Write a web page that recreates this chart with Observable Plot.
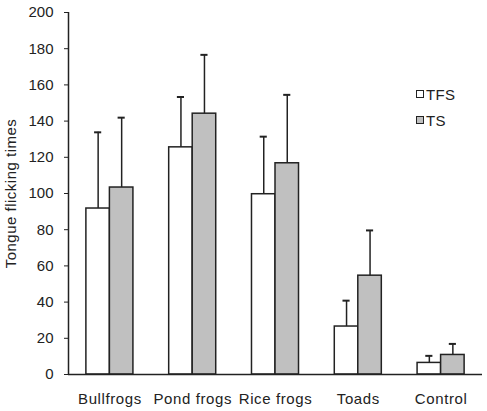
<!DOCTYPE html>
<html>
<head>
<meta charset="utf-8">
<script src="https://cdn.jsdelivr.net/npm/d3@7"></script>
<script src="https://cdn.jsdelivr.net/npm/@observablehq/plot@0.6"></script>
<style>
  html, body { margin: 0; padding: 0; background: #fff; }
  #wrap { position: relative; width: 487px; height: 411px; }
  .legend { position: absolute; font-family: "Liberation Sans", Arial, sans-serif; font-size: 15px; color: #222; letter-spacing: 0.3px; }
  .legend div { display: flex; align-items: center; height: 26px; }
  .legend span.sw { display: inline-block; width: 6px; height: 6px; border: 1.5px solid #222; margin-right: 2px; }
  svg g[aria-label="x-axis tick label"] text, svg g[aria-label="x-axis tick label"] { letter-spacing: 0.6px; }
  svg g[aria-label="y-axis label"] text, svg g[aria-label="y-axis label"] { letter-spacing: 0.5px; }
</style>
</head>
<body>
<div id="wrap"></div>
<script>
const categories = ["Bullfrogs", "Pond frogs", "Rice frogs", "Toads", "Control"];
const seriesNames = ["TFS", "TS"];
const tfsMeans = [91.7, 125.5, 99.6, 26.5, 6.4];
const tfsErrTop = [133.8, 153.3, 131.4, 40.8, 10.3];
const tsMeans = [103.3, 144.1, 116.7, 54.6, 10.8];
const tsErrTop = [141.9, 176.6, 154.5, 79.6, 16.9];
const yTicks = [0, 20, 40, 60, 80, 100, 120, 140, 160, 180, 200];
const seriesColors = ["#ffffff", "#c0c0c0"];

const barHalf = 0.284;   // fraction of a category slot per bar
const capHalf = 0.043;

const rows = [];
categories.forEach((c, i) => {
  rows.push({cat: c, s: 0, i, mean: tfsMeans[i], top: tfsErrTop[i]});
  rows.push({cat: c, s: 1, i, mean: tsMeans[i], top: tsErrTop[i]});
});
const x1 = d => d.i + 0.5 - (d.s === 0 ? barHalf : 0);
const x2 = d => d.i + 0.5 + (d.s === 1 ? barHalf : 0);
const xc = d => d.i + 0.5 + (d.s === 0 ? -barHalf / 2 : barHalf / 2);

const chart = Plot.plot({
  width: 487,
  height: 411,
  marginLeft: 68,
  marginRight: 5,
  marginTop: 12,
  marginBottom: 37,
  style: {fontFamily: "'Liberation Sans', Arial, sans-serif", fontSize: "15px", color: "#222", background: "#fff"},
  x: {
    domain: [0, categories.length],
    ticks: categories.map((c, i) => i + 0.5),
    tickFormat: v => categories[Math.round(v - 0.5)],
    tickSize: 0,
    tickPadding: 19,
    label: null
  },
  y: {
    domain: [0, 200],
    ticks: yTicks,
    tickSize: 4,
    tickPadding: 11,
    label: "Tongue flicking times",
    labelAnchor: "center",
    labelArrow: false,
    labelOffset: 63
  },
  marks: [
    Plot.rectY(rows, {x1, x2, y1: 0, y2: "mean", fill: d => seriesColors[d.s], stroke: "#222", strokeWidth: 1.5}),
    Plot.ruleX(rows, {x: xc, y1: "mean", y2: "top", stroke: "#222", strokeWidth: 1.5}),
    Plot.ruleY(rows, {y: "top", x1: d => xc(d) - capHalf, x2: d => xc(d) + capHalf, stroke: "#222", strokeWidth: 2}),
    Plot.ruleX([0], {stroke: "#222", strokeWidth: 1.5}),
    Plot.ruleY([0], {stroke: "#222", strokeWidth: 1.5})
  ]
});
const wrap = document.getElementById("wrap");
wrap.appendChild(chart);

const legend = document.createElement("div");
legend.className = "legend";
legend.style.left = "416px";
legend.style.top = "81px";
seriesNames.forEach((n, k) => {
  const row = document.createElement("div");
  const sw = document.createElement("span");
  sw.className = "sw";
  sw.style.background = seriesColors[k];
  row.appendChild(sw);
  row.appendChild(document.createTextNode(n));
  legend.appendChild(row);
});
wrap.appendChild(legend);
</script>
</body>
</html>
